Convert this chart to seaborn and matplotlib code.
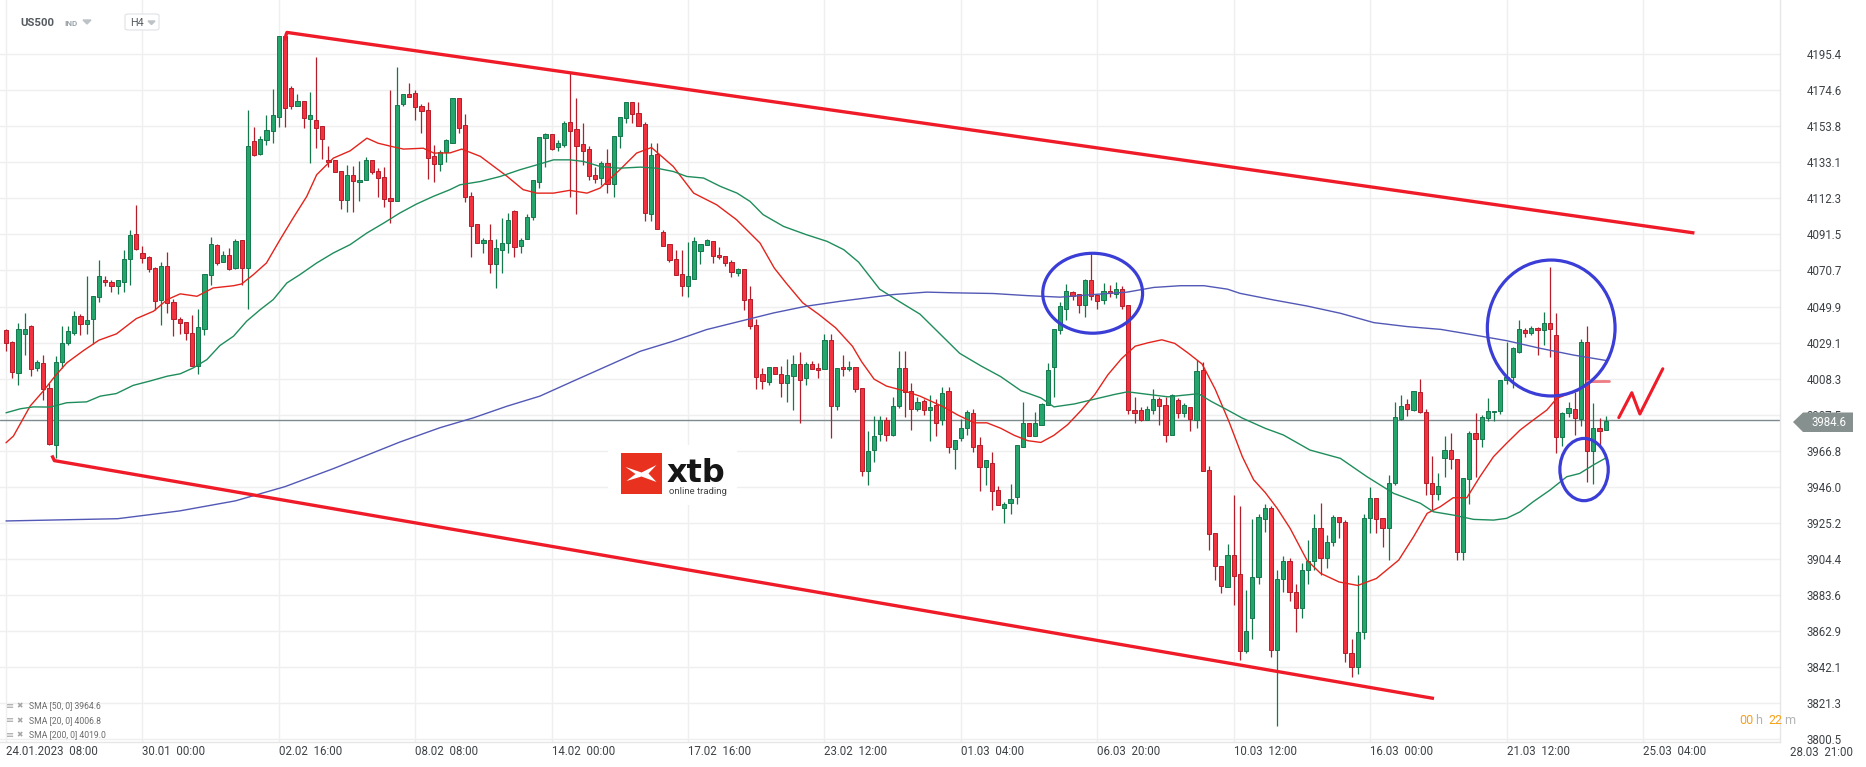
import numpy as np
import pandas as pd
import matplotlib.pyplot as plt
from matplotlib.patches import Ellipse, Polygon, Rectangle, FancyBboxPatch
import seaborn as sns

# H4 candles, US500 (index 0 = 24.01.2023 08:00)
open_ = [4036.6, 4029.3, 4011.7, 4034.2, 4038.9, 4014.5, 4017.4, 4003.0, 3970.0, 4017.9,
         4029.0, 4034.7, 4044.7, 4040.0, 4042.8, 4055.4, 4065.4, 4064.1, 4061.6, 4063.9,
         4077.3, 4091.7, 4081.0, 4078.4, 4072.2, 4053.7, 4073.2, 4052.5, 4042.9, 4041.0,
         4034.9, 4015.6, 4037.0, 4068.3, 4085.2, 4075.5, 4079.8, 4072.0, 4088.4, 4072.0,
         4145.5, 4138.0, 4145.7, 4150.9, 4159.5, 4205.9, 4175.8, 4165.6, 4168.7, 4158.0,
         4157.6, 4154.1, 4134.5, 4134.5, 4128.2, 4111.5, 4125.9, 4121.5, 4122.6, 4134.2,
         4128.2, 4124.4, 4112.5, 4110.5, 4166.6, 4172.5, 4173.3, 4165.7, 4163.0, 4136.5,
         4132.2, 4139.2, 4144.4, 4170.0, 4154.4, 4113.6, 4097.5, 4086.3, 4088.3, 4074.4,
         4082.7, 4086.3, 4105.0, 4084.8, 4088.7, 4101.3, 4122.0, 4147.3, 4149.4, 4141.8,
         4143.0, 4156.1, 4152.3, 4143.6, 4140.7, 4125.9, 4124.0, 4132.6, 4120.5, 4148.4,
         4158.7, 4167.6, 4161.8, 4155.1, 4103.2, 4137.8, 4093.1, 4085.9, 4077.5, 4068.7,
         4061.6, 4066.0, 4081.7, 4085.2, 4087.9, 4079.8, 4079.2, 4075.6, 4069.2, 4071.5,
         4054.3, 4039.5, 4010.7, 4006.5, 4015.1, 4010.7, 4005.9, 4010.1, 4016.5, 4008.8,
         4017.0, 4014.5, 4014.1, 4030.3, 3992.5, 4015.1, 4013.6, 4015.1, 4003.0, 3955.0,
         3967.0, 3976.4, 3984.2, 3976.0, 3992.6, 4014.6, 4001.3, 3990.6, 3995.5, 3990.4,
         3992.8, 3984.2, 4000.9, 3967.8, 3973.8, 3979.7, 3988.7, 3969.8, 3957.1, 3959.7,
         3944.3, 3933.5, 3936.4, 3940.0, 3968.8, 3982.8, 3975.0, 3981.7, 3993.1, 4015.2,
         4036.4, 4048.6, 4058.2, 4057.2, 4050.8, 4065.2, 4056.8, 4053.7, 4058.8, 4057.4,
         4059.9, 4050.8, 3990.4, 3990.4, 3984.6, 3990.4, 3996.7, 3993.3, 3975.6, 3996.1,
         3988.5, 3992.0, 3984.6, 4013.0, 3955.6, 3919.0, 3900.5, 3888.2, 3906.3, 3895.4,
         3851.2, 3870.0, 3894.0, 3927.1, 3933.5, 3852.0, 3893.0, 3903.0, 3885.0, 3876.0,
         3898.0, 3903.0, 3922.0, 3905.0, 3913.9, 3928.3, 3925.7, 3850.0, 3842.0, 3862.0,
         3927.7, 3939.2, 3927.7, 3921.9, 3947.9, 3985.0, 3993.6, 3990.2, 4000.8, 3988.9,
         3948.3, 3941.5, 3962.3, 3967.1, 3961.7, 3908.1, 3950.2, 3976.7, 3973.3, 3985.4,
         3988.9, 3989.8, 4007.5, 4009.4, 4023.5, 4036.4, 4034.4, 4037.3, 4036.4, 4040.2,
         4033.5, 3974.8, 3988.3, 3990.6, 3984.8, 4029.6, 3966.5, 3979.6, 3978.7]
high = [4037.0, 4030.0, 4040.1, 4046.2, 4039.5, 4019.0, 4022.2, 4005.9, 4021.6, 4038.9,
        4038.9, 4047.2, 4045.3, 4067.7, 4056.2, 4076.5, 4067.5, 4065.0, 4065.4, 4082.3,
        4094.2, 4108.6, 4085.0, 4079.0, 4072.6, 4075.8, 4081.5, 4054.0, 4043.7, 4041.0,
        4044.8, 4048.7, 4068.7, 4090.0, 4086.0, 4082.1, 4083.7, 4088.8, 4088.4, 4163.0,
        4153.2, 4148.0, 4160.5, 4175.4, 4206.0, 4207.9, 4177.2, 4172.5, 4168.7, 4173.9,
        4194.0, 4154.1, 4142.2, 4134.5, 4128.2, 4131.6, 4130.7, 4133.6, 4135.9, 4134.2,
        4129.7, 4130.1, 4174.6, 4187.9, 4172.5, 4178.7, 4174.5, 4166.6, 4168.1, 4143.2,
        4140.3, 4146.6, 4170.0, 4170.0, 4160.9, 4115.9, 4097.5, 4089.2, 4097.5, 4088.6,
        4101.1, 4104.0, 4105.6, 4089.2, 4103.3, 4122.9, 4147.5, 4150.2, 4149.4, 4146.0,
        4156.9, 4185.4, 4170.0, 4155.7, 4142.2, 4130.1, 4133.6, 4140.7, 4148.4, 4159.5,
        4167.6, 4167.6, 4167.6, 4156.6, 4144.5, 4144.5, 4093.8, 4085.9, 4082.7, 4082.7,
        4086.9, 4090.0, 4086.0, 4089.0, 4087.9, 4084.2, 4079.2, 4076.9, 4072.1, 4071.5,
        4061.6, 4042.8, 4014.5, 4015.1, 4015.1, 4015.5, 4019.7, 4022.2, 4023.8, 4017.8,
        4018.4, 4017.4, 4033.8, 4033.8, 4014.5, 4022.2, 4018.4, 4015.1, 4003.0, 3978.0,
        3986.9, 3986.9, 3986.3, 3997.8, 4024.5, 4024.5, 4006.0, 3997.8, 3996.6, 3998.6,
        3996.6, 4003.3, 4003.3, 3973.1, 3984.8, 3990.4, 3991.0, 3974.5, 3961.2, 3965.7,
        3946.4, 3937.0, 3947.8, 3969.8, 3995.1, 3982.8, 3989.0, 3994.5, 4017.3, 4036.8,
        4052.7, 4062.7, 4058.8, 4057.2, 4066.0, 4081.5, 4056.8, 4063.4, 4062.3, 4064.0,
        4061.9, 4050.8, 3997.8, 3992.0, 3992.4, 4002.3, 3997.8, 3997.8, 3999.2, 3997.2,
        3994.5, 3992.0, 4019.2, 4017.7, 3958.1, 3919.0, 3900.5, 3912.9, 3941.0, 3934.9,
        3886.1, 3927.3, 3930.0, 3936.0, 3935.0, 3898.0, 3906.0, 3905.0, 3890.0, 3902.0,
        3915.0, 3930.0, 3936.4, 3918.0, 3929.6, 3928.3, 3926.7, 3858.0, 3895.0, 3930.0,
        3945.6, 3939.2, 3927.7, 3952.7, 3995.0, 3998.9, 3996.4, 4001.3, 4007.9, 3990.6,
        3963.6, 3954.1, 3975.2, 3976.7, 3961.7, 3950.8, 3978.3, 3988.3, 3987.3, 3996.9,
        3989.8, 4007.5, 4029.6, 4026.7, 4042.1, 4037.7, 4038.6, 4037.9, 4046.5, 4072.9,
        4046.0, 3989.2, 3995.0, 4000.8, 4030.9, 4038.6, 3994.1, 3985.4, 3986.7]
low = [4024.1, 4008.8, 4004.5, 4021.8, 4009.7, 4012.6, 3995.7, 3969.8, 3962.7, 4014.5,
       4027.6, 4033.2, 4033.7, 4034.3, 4028.0, 4052.3, 4061.6, 4058.3, 4057.1, 4058.0,
       4062.5, 4082.3, 4075.2, 4070.0, 4047.6, 4039.5, 4046.4, 4032.9, 4034.3, 4030.4,
       4015.6, 4010.9, 4033.7, 4062.2, 4074.0, 4075.5, 4070.8, 4071.6, 4062.5, 4048.5,
       4136.5, 4137.4, 4142.8, 4144.1, 4153.4, 4153.6, 4163.7, 4165.6, 4152.8, 4132.6,
       4141.2, 4134.9, 4130.3, 4127.4, 4106.3, 4104.4, 4104.4, 4110.5, 4122.6, 4126.5,
       4113.0, 4107.2, 4098.1, 4110.5, 4165.3, 4171.0, 4157.2, 4149.9, 4123.4, 4121.5,
       4128.0, 4133.0, 4144.4, 4150.2, 4110.4, 4078.3, 4086.3, 4081.0, 4069.4, 4060.4,
       4069.4, 4081.0, 4078.3, 4081.0, 4088.7, 4099.8, 4118.5, 4130.2, 4140.2, 4139.8,
       4142.1, 4113.3, 4103.3, 4131.6, 4123.0, 4121.1, 4119.8, 4115.3, 4113.0, 4141.6,
       4155.7, 4155.7, 4154.1, 4099.0, 4099.4, 4094.6, 4084.6, 4075.4, 4068.3, 4056.2,
       4055.2, 4066.0, 4074.4, 4085.2, 4075.0, 4077.5, 4073.1, 4067.0, 4067.3, 4048.1,
       4037.0, 4002.1, 4002.1, 4004.6, 4010.7, 3997.8, 3995.0, 3990.2, 3982.9, 4004.6,
       4014.1, 4008.4, 4014.1, 3974.2, 3990.2, 4010.1, 4012.6, 4000.5, 3952.0, 3947.2,
       3960.0, 3972.5, 3972.5, 3975.2, 3991.6, 3986.3, 3978.7, 3989.6, 3987.5, 3972.5,
       3975.2, 3981.7, 3965.3, 3956.0, 3972.5, 3975.6, 3965.7, 3943.7, 3946.8, 3932.4,
       3935.5, 3925.2, 3930.3, 3936.1, 3968.8, 3975.0, 3975.0, 3981.7, 3993.1, 3997.8,
       4034.2, 4042.4, 4053.7, 4045.9, 4043.8, 4053.7, 4048.6, 4051.2, 4055.3, 4054.7,
       4048.6, 3987.9, 3982.8, 3983.8, 3984.6, 3987.9, 3981.7, 3971.9, 3975.6, 3985.5,
       3986.3, 3978.0, 3980.1, 3955.0, 3909.4, 3892.3, 3884.7, 3888.2, 3878.0, 3846.0,
       3850.2, 3858.4, 3890.0, 3920.0, 3848.0, 3808.0, 3885.0, 3880.0, 3862.0, 3870.0,
       3890.0, 3898.0, 3895.0, 3899.0, 3912.0, 3916.2, 3845.0, 3836.0, 3838.0, 3858.0,
       3919.0, 3919.0, 3911.3, 3903.6, 3947.0, 3984.4, 3986.7, 3989.8, 3988.3, 3941.2,
       3932.1, 3938.3, 3951.4, 3956.0, 3903.6, 3903.6, 3936.0, 3951.7, 3969.0, 3984.0,
       3984.0, 3987.9, 4005.0, 4002.7, 4023.0, 4032.1, 4033.5, 4021.9, 4027.7, 4021.0,
       3965.2, 3969.4, 3986.4, 3975.8, 3981.0, 3948.9, 3947.5, 3969.1, 3978.7]
close = [4029.0, 4012.2, 4037.0, 4036.8, 4013.9, 4017.8, 4002.1, 3970.4, 4018.0, 4028.9,
         4035.7, 4044.7, 4039.9, 4042.4, 4056.2, 4067.5, 4063.9, 4061.6, 4065.4, 4077.3,
         4091.3, 4083.1, 4077.7, 4071.3, 4053.3, 4073.5, 4052.1, 4042.5, 4040.2, 4034.5,
         4015.6, 4037.8, 4068.7, 4086.0, 4075.0, 4079.8, 4071.6, 4087.9, 4072.0, 4142.6,
         4137.4, 4146.6, 4151.8, 4160.5, 4206.0, 4164.3, 4165.3, 4168.5, 4158.5, 4160.1,
         4152.8, 4146.4, 4133.0, 4127.4, 4111.5, 4125.9, 4122.1, 4123.0, 4134.2, 4127.4,
         4124.0, 4111.9, 4110.5, 4166.0, 4172.5, 4171.0, 4164.9, 4162.4, 4135.5, 4132.2,
         4139.3, 4145.7, 4170.0, 4153.1, 4112.9, 4096.5, 4086.3, 4088.3, 4074.4, 4083.5,
         4086.7, 4099.8, 4084.4, 4088.3, 4101.3, 4122.9, 4147.5, 4149.4, 4141.0, 4144.4,
         4155.9, 4151.3, 4142.7, 4139.7, 4125.3, 4123.4, 4132.6, 4120.5, 4148.4, 4159.5,
         4167.6, 4160.9, 4154.1, 4103.8, 4137.4, 4094.6, 4084.6, 4076.6, 4068.3, 4061.9,
         4067.3, 4087.9, 4086.0, 4088.1, 4078.9, 4078.3, 4075.0, 4069.8, 4071.7, 4053.5,
         4038.5, 4009.4, 4007.2, 4015.1, 4010.7, 4005.9, 4010.3, 4016.5, 4007.4, 4017.0,
         4014.1, 4013.2, 4030.3, 3992.5, 4014.5, 4013.6, 4015.1, 4002.1, 3955.0, 3966.7,
         3975.0, 3984.2, 3975.6, 3992.6, 4014.6, 4000.7, 3991.0, 3995.1, 3990.4, 3992.0,
         3982.8, 4000.2, 3969.0, 3973.1, 3979.7, 3989.0, 3969.0, 3957.1, 3961.2, 3943.3,
         3935.5, 3936.1, 3939.0, 3969.8, 3982.8, 3975.0, 3982.8, 3993.7, 4013.2, 4036.8,
         4050.2, 4058.6, 4056.2, 4050.6, 4065.2, 4055.8, 4053.3, 4058.8, 4057.8, 4059.9,
         4050.4, 3990.0, 3988.5, 3984.6, 3990.8, 3996.7, 3992.6, 3975.6, 3998.6, 3988.5,
         3992.8, 3984.8, 4012.6, 3955.0, 3918.4, 3900.1, 3888.6, 3906.3, 3894.4, 3851.2,
         3862.5, 3893.8, 3928.7, 3933.5, 3852.0, 3893.0, 3903.0, 3885.0, 3876.0, 3898.0,
         3903.0, 3922.0, 3905.0, 3913.9, 3928.3, 3925.4, 3850.0, 3842.0, 3862.0, 3927.7,
         3939.2, 3927.3, 3921.9, 3947.9, 3986.4, 3992.7, 3990.6, 4001.3, 3988.9, 3947.9,
         3941.5, 3946.6, 3967.1, 3961.7, 3908.1, 3950.8, 3976.7, 3973.3, 3985.9, 3989.8,
         3989.8, 4007.5, 4009.5, 4025.8, 4036.7, 4034.4, 4037.3, 4036.4, 4040.6, 4036.7,
         3974.8, 3988.3, 3991.2, 3985.4, 4029.6, 3966.5, 3980.0, 3978.1, 3984.0]

# moving averages (candle index, value)
sma20_i = [0, 1.2, 3.9, 6, 7.9, 9.8, 12.5, 15, 17.8, 21, 23.8, 26, 28.1, 30.8, 33.4, 36.7, 38,
           39.9, 42, 44.2, 46.3, 48.5, 50.1, 52.8, 55.5, 58.2, 60, 62.2, 64.1, 67.3, 69, 71.6,
           73.5, 76.5, 80.8, 83.4, 85.6, 88.3, 90.9, 93.7, 95.8, 99, 101.7, 104.1, 107.6, 110.9,
           114.6, 117.8, 121.6, 123.9, 125.8, 128.5, 131.1, 133.8, 136.5, 138, 140, 142, 144.6,
           147.4, 151.2, 153.4, 156.1, 158.2, 160.4, 162.6, 164.8, 166.9, 169, 171.2, 173.4,
           175.6, 177.7, 179.9, 182.1, 184.2, 186.4, 188.5, 190.7, 192.9, 195, 197.2, 199.4,
           201.2, 203.1, 205, 207.1, 209.8, 212, 215, 218, 221, 224.6, 227, 229.2, 231.3, 233.4,
           235.6, 237.7, 239.9, 242, 244.2, 246.3, 248.5, 250.1, 252.2, 253.8, 254.9, 258]
sma20_v = [3971.3, 3975.2, 3992.5, 4001.1, 4009.7, 4017.4, 4024.5, 4030.5, 4034.1, 4042.9,
           4047.2, 4053.9, 4057.2, 4055.8, 4060.6, 4061.9, 4062.9, 4068.3, 4075.0, 4088.5,
           4100.9, 4113.4, 4125.9, 4135.5, 4139.7, 4147.0, 4144.1, 4142.2, 4140.7, 4141.2,
           4138.4, 4138.5, 4140.7, 4136.5, 4125.0, 4117.3, 4115.3, 4115.3, 4116.9, 4115.3,
           4118.2, 4128.8, 4138.4, 4141.6, 4130.7, 4115.3, 4108.6, 4100.0, 4086.5, 4072.1,
           4063.5, 4052.0, 4045.3, 4037.6, 4027.0, 4018.0, 4008.0, 4004.0, 4001.5, 3998.2,
           3992.0, 3987.5, 3982.8, 3982.8, 3979.7, 3975.6, 3972.5, 3971.5, 3975.6, 3981.7,
           3990.0, 3999.2, 4010.5, 4019.8, 4027.0, 4029.0, 4030.7, 4028.6, 4022.9, 4016.7,
           4002.3, 3983.8, 3963.2, 3950.0, 3942.5, 3933.5, 3921.9, 3903.6, 3896.0, 3891.0,
           3889.0, 3893.0, 3903.6, 3917.1, 3930.6, 3934.4, 3939.6, 3939.6, 3951.7, 3963.3,
           3971.0, 3978.7, 3984.4, 3990.2, 3996.9, 3999.8, 4001.7, 4006.0, 4006.8]
sma50_i = [0, 2.3, 4.4, 7.1, 9.8, 13, 15.2, 17.8, 20.5, 23.2, 26, 28.1, 30.2, 32.4, 34.5, 36.7,
           38.8, 41, 43.1, 45.3, 47.4, 50.1, 52.8, 55.5, 58.2, 60.9, 63.5, 66.2, 68.9, 71.6,
           73.2, 76.5, 79.7, 82.9, 85.6, 88.3, 90.9, 93.1, 95.8, 99, 102.3, 104.9, 107.6, 109.8,
           112.5, 115.2, 117.9, 120, 122.1, 125.4, 129.1, 132.4, 135.1, 137.5, 140.9, 144.1,
           147.4, 150.6, 153.8, 157.2, 160.4, 163.7, 166.9, 169, 172.3, 175.6, 178.8, 180.9,
           184.2, 187.4, 190.1, 192.3, 194.4, 197.1, 199.4, 203.1, 206, 210.3, 215.2, 219.5,
           223.8, 228.1, 230.2, 233.4, 236.7, 239.9, 242, 244.2, 246.3, 249, 251.7, 253.8, 256,
           258]
sma50_v = [3988.6, 3990.9, 3992.0, 3991.9, 3994.4, 3994.9, 3998.2, 3999.7, 4004.4, 4006.9,
           4009.7, 4011.1, 4014.5, 4019.3, 4027.4, 4032.8, 4041.4, 4048.1, 4053.9, 4063.5,
           4068.3, 4075.0, 4080.8, 4085.6, 4092.3, 4098.0, 4103.8, 4109.0, 4113.4, 4117.3,
           4120.1, 4122.0, 4124.9, 4128.8, 4131.6, 4134.5, 4134.5, 4133.6, 4130.7, 4129.7,
           4130.3, 4129.7, 4127.8, 4124.9, 4124.0, 4119.2, 4115.3, 4110.5, 4102.9, 4096.1,
           4091.3, 4087.5, 4082.7, 4075.5, 4059.9, 4052.7, 4045.5, 4034.2, 4022.9, 4015.7,
           4009.5, 4001.3, 3997.2, 3992.0, 3993.7, 3996.5, 3999.2, 4000.7, 3999.2, 3997.8,
           3998.8, 3999.6, 3995.1, 3990.0, 3985.5, 3979.6, 3975.8, 3967.1, 3962.3, 3951.7,
           3942.1, 3936.4, 3931.5, 3929.6, 3927.1, 3926.7, 3927.7, 3931.5, 3937.3, 3944.0,
           3951.7, 3953.6, 3958.5, 3962.5]
sma200_i = [0, 18, 28, 37, 45, 52.8, 63.5, 70, 75.4, 80.8, 86.1, 91.5, 96.9, 102.3, 107.6, 113,
            118.4, 123.8, 129.1, 134.5, 138, 143.1, 148.5, 152.8, 159.2, 164.6, 170, 175.4,
            180.8, 185.1, 189.4, 193.2, 197, 199, 204.4, 209.8, 215.2, 220.6, 226, 231.4,
            236.7, 242, 247.4, 252.8, 258]
sma200_v = [3926.2, 3927.5, 3932.0, 3937.8, 3946.0, 3956.4, 3971.7, 3980.0, 3985.7, 3992.4,
            3998.2, 4006.9, 4015.5, 4024.1, 4029.9, 4036.6, 4041.4, 4046.2, 4050.1, 4052.9,
            4054.5, 4056.8, 4058.2, 4057.8, 4057.4, 4056.2, 4055.3, 4056.8, 4058.2, 4060.9,
            4061.9, 4061.9, 4059.9, 4057.5, 4053.7, 4050.2, 4046.0, 4040.6, 4038.3, 4036.7,
            4033.5, 4030.2, 4025.8, 4021.9, 4018.8]

price_ticks = [4195.4, 4174.6, 4153.8, 4133.1, 4112.3, 4091.5, 4070.7, 4049.9, 4029.1, 4008.3,
               3987.5, 3966.8, 3946.0, 3925.2, 3904.4, 3883.6, 3862.9, 3842.1, 3821.3, 3800.5]
time_pos = [0, 22, 44, 66, 88, 110, 132, 154, 176, 198, 220, 242, 264]
time_labels = ['24.01.2023  08:00', '30.01  00:00', '02.02  16:00', '08.02  08:00',
               '14.02  00:00', '17.02  16:00', '23.02  12:00', '01.03  04:00',
               '06.03  20:00', '10.03  12:00', '16.03  00:00', '21.03  12:00', '25.03  04:00']
last_price = 3984.6
legend_rows = ['SMA [50, 0] 3964.6', 'SMA [20, 0] 4006.8', 'SMA [200, 0] 4019.0']

# drawings on the chart
upper_x, upper_y = [44.9, 45.3, 272.3], [4203.5, 4208.0, 4092.3]
lower_x, lower_y = [7.4, 7.8, 230.3], [3964.0, 3961.0, 3823.8]
zig_x, zig_y = [260.1, 262.2, 263.5, 267.2], [3985.8, 4000.2, 3987.9, 4014.0]
circles = [(175.25, 4057.55, 16.1, 46.1), (249.2, 4037.5, 20.6, 78.4), (254.5, 3955.85, 7.8, 35.9)]

W, H = 1866, 767
GREEN, GREEN_E = '#23a56c', '#15784c'
RED, RED_E = '#f2323f', '#b41d29'
TXT = '#3d4246'

sns.set_theme(style='white')
plt.rcParams['font.family'] = ['Roboto', 'DejaVu Sans']

fig = plt.figure(figsize=(W / 100, H / 100), dpi=100)
ax = fig.add_axes([0, 25 / H, 1780 / W, 742 / H])


def fx(x):
    return x / W


def fy(y):
    return 1 - y / H


# candles
o, h, l, c = map(np.array, (open_, high, low, close))
idx = np.arange(len(c))
up = c >= o
lo_b = np.minimum(o, c)
hb = np.maximum(np.abs(c - o), 0.7)
for m, fc, ec in ((up, GREEN, GREEN_E), (~up, RED, RED_E)):
    ax.vlines(idx[m], l[m], h[m], color=ec, lw=0.9, zorder=3)
    ax.bar(idx[m], hb[m], bottom=lo_b[m], width=0.68, color=fc, edgecolor=ec,
           linewidth=0.7, zorder=4)

# moving averages
sma = pd.concat([
    pd.DataFrame({'i': sma20_i, 'v': sma20_v, 'n': 'SMA20'}),
    pd.DataFrame({'i': sma50_i, 'v': sma50_v, 'n': 'SMA50'}),
    pd.DataFrame({'i': sma200_i, 'v': sma200_v, 'n': 'SMA200'}),
])
sns.lineplot(data=sma, x='i', y='v', hue='n', ax=ax, legend=False, linewidth=1.0,
             palette={'SMA20': '#e3241c', 'SMA50': '#1f8d5b', 'SMA200': '#5258b5'},
             zorder=5, sort=False, estimator=None)
ax.plot([255, 258.5], [4006.8, 4006.8], color='#ef7d86', lw=2.0, zorder=5)

# current price
ax.axhline(last_price, color='#7e8a8d', lw=1.0, zorder=2.5)

# channel lines, zigzag, circles
ax.plot(upper_x, upper_y, color='#f01b28', lw=2.4, zorder=6, solid_capstyle='butt')
ax.plot(lower_x, lower_y, color='#f01b28', lw=2.4, zorder=6, solid_capstyle='butt')
ax.plot(zig_x, zig_y, color='#f01b28', lw=2.2, zorder=6)
for cx, cy, w, hh in circles:
    ax.add_patch(Ellipse((cx, cy), w, hh, fill=False, edgecolor='#3a3ed6', lw=2.3, zorder=7))

# axes, grid, ticks
ax.set_xlim(-0.97, 286.1)
ax.set_ylim(3798.7, 4226.7)
ax.set_xticks(time_pos)
ax.set_xticklabels(time_labels, ha='left')
ax.set_yticks(price_ticks)
ax.set_yticklabels([f'{p:.1f}' for p in price_ticks])
ax.yaxis.tick_right()
ax.tick_params(axis='y', length=0, pad=19, labelsize=8.3, labelcolor=TXT)
ax.tick_params(axis='x', length=0, pad=2, labelsize=8.3, labelcolor=TXT)
ax.grid(True, color='#efefef', lw=1.0)
ax.set_axisbelow(True)
ax.set_xlabel('')
ax.set_ylabel('')
for s in ('top', 'left'):
    ax.spines[s].set_visible(False)
for s in ('bottom', 'right'):
    ax.spines[s].set_color('#e6e6e6')
    ax.spines[s].set_linewidth(1.0)

fig.text(fx(1790), fy(752), '28.03  21:00', fontsize=8.3, color=TXT, va='center')

# price tag on the axis
tag = [(1793, 422), (1803, 412.5), (1853, 412.5), (1853, 432), (1803, 432)]
fig.add_artist(Polygon([(fx(x), fy(y)) for x, y in tag], closed=True, transform=fig.transFigure,
                       facecolor='#86918f', edgecolor='none', zorder=10))
fig.text(fx(1829), fy(422.5), f'{last_price:.1f}', fontsize=8.3, color='white', ha='center',
         va='center', zorder=11)

# header
fig.text(fx(20), fy(23), 'US500', fontsize=8.2, fontweight='bold', color='#555b60', va='center')
fig.text(fx(64), fy(23.5), 'IND', fontsize=5.8, fontweight='bold', color='#9ba4a9', va='center')
fig.add_artist(Polygon([(fx(83), fy(20)), (fx(91), fy(20)), (fx(87), fy(24))],
                       transform=fig.transFigure, color='#bcc2c6'))
fig.add_artist(FancyBboxPatch((fx(125), fy(30)), fx(34), 16 / H,
                              boxstyle='round,pad=0,rounding_size=0.002',
                              transform=fig.transFigure, facecolor='white',
                              edgecolor='#dfe2e4', lw=0.8))
fig.text(fx(130), fy(23), 'H4', fontsize=7.8, color='#555b60', va='center')
fig.add_artist(Polygon([(fx(148), fy(21)), (fx(155), fy(21)), (fx(151.5), fy(24.5))],
                       transform=fig.transFigure, color='#bcc2c6'))

# indicator legend
for k, row in enumerate(legend_rows):
    yy = 706 + 14.5 * k
    fig.text(fx(6), fy(yy), '\u2261', fontsize=7, color='#a6a6a6', va='center',
             family='DejaVu Sans')
    fig.text(fx(16), fy(yy), '\u2716', fontsize=5.5, color='#a6a6a6', va='center',
             family='DejaVu Sans')
    fig.text(fx(29), fy(yy), row, fontsize=6.2, color='#6c6c6c', va='center')

# candle timer
for txt, x0, col in (('00', 1739.5, '#f5a11c'), ('h', 1755, '#b3b3b3'),
                     ('22', 1768.5, '#f5a11c'), ('m', 1784.5, '#b3b3b3')):
    fig.text(fx(x0), fy(720), txt, fontsize=9, color=col, va='center')

# watermark logo
ax.add_patch(Rectangle((fx(608), fy(505)), 129 / W, 60 / H, transform=fig.transFigure,
                       facecolor='white', edgecolor='none', zorder=1, clip_on=False))
ax.add_patch(Rectangle((fx(620.5), fy(494)), 41 / W, 41 / H, transform=fig.transFigure,
                       facecolor='#e8321f', edgecolor='none', zorder=1.2, clip_on=False))
bird = [(5, 14), (21, 19.5), (36, 12), (28, 20.5), (36, 29), (21, 23.5), (6, 28), (15, 21)]
ax.add_patch(Polygon([(fx(620.5 + bx), fy(453 + by)) for bx, by in bird],
                     transform=fig.transFigure, facecolor='white', edgecolor='none',
                     zorder=1.3, clip_on=False))
fig.text(fx(667), fy(482), 'xtb', fontsize=23, fontweight='bold', color='#161616',
         va='baseline', family='DejaVu Sans')
fig.text(fx(669), fy(493.5), 'online trading', fontsize=6.8, color='#444444', va='baseline')

fig.savefig('out.png', dpi=100)
